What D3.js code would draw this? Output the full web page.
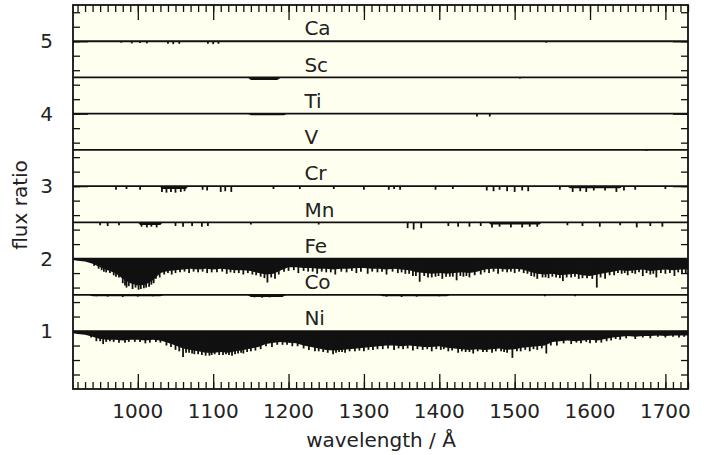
<!DOCTYPE html>
<html>
<head>
<meta charset="utf-8">
<script src="https://cdn.jsdelivr.net/npm/d3@7"></script>
<style>
  html, body { margin: 0; padding: 0; background: #ffffff; }
  svg { display: block; }
  text { font-family: "DejaVu Sans", sans-serif; fill: #222; }
</style>
</head>
<body>
<svg id="chart" width="710" height="455"></svg>
<script>
// Element names, top to bottom, and the vertical offset added to each flux ratio
const elements = ["Ca", "Sc", "Ti", "V", "Cr", "Mn", "Fe", "Co", "Ni"];
const offsets  = [4, 3.5, 3, 2.5, 2, 1.5, 1, 0.5, 0];

// Axis ticks
const wavelengthTicks = [1000, 1100, 1200, 1300, 1400, 1500, 1600, 1700];
const fluxTicks = [1, 2, 3, 4, 5];

// Absorption bands: [wavelength (Å), lower envelope of flux ratio]
const caBand = [];
const scBand = [[1146, 1.0], [1150, 0.965], [1185, 0.965], [1190, 1.0]];
const tiBand = [[1146, 1.0], [1150, 0.98], [1194, 0.98], [1198, 1.0]];
const vBand  = [];
const crBand = [[1029, 1.0], [1032, 0.96], [1064, 0.96], [1067, 1.0],
                [1570, 1.0], [1573, 0.97], [1640, 0.97], [1643, 1.0]];
const mnBand = [[1000, 1.0], [1003, 0.965], [1030, 0.965], [1033, 1.0],
                [1465, 1.0], [1468, 0.97], [1533, 0.97], [1536, 1.0]];
const feBand = [
  [914, 0.98], [920, 0.97], [930, 0.96], [940, 0.93], [950, 0.88], [960, 0.84], [970, 0.80],
  [980, 0.72], [990, 0.66], [1000, 0.63], [1010, 0.64], [1020, 0.70], [1030, 0.80],
  [1040, 0.83], [1050, 0.84], [1060, 0.85], [1070, 0.86], [1080, 0.85], [1090, 0.86],
  [1100, 0.85], [1110, 0.86], [1120, 0.85], [1130, 0.84], [1140, 0.84], [1150, 0.83],
  [1160, 0.80], [1170, 0.78], [1180, 0.79], [1190, 0.84], [1200, 0.88], [1210, 0.88],
  [1220, 0.87], [1230, 0.87], [1240, 0.86], [1250, 0.86], [1260, 0.85], [1270, 0.86],
  [1280, 0.86], [1290, 0.87], [1300, 0.87], [1310, 0.86], [1320, 0.86], [1330, 0.85],
  [1340, 0.86], [1350, 0.85], [1360, 0.84], [1370, 0.81], [1380, 0.80], [1390, 0.79],
  [1400, 0.80], [1410, 0.79], [1420, 0.80], [1430, 0.81], [1440, 0.80], [1450, 0.82],
  [1460, 0.85], [1470, 0.86], [1480, 0.86], [1490, 0.85], [1500, 0.86], [1510, 0.85],
  [1520, 0.82], [1530, 0.79], [1540, 0.78], [1550, 0.79], [1560, 0.77], [1570, 0.78],
  [1580, 0.79], [1590, 0.77], [1600, 0.76], [1610, 0.78], [1620, 0.80], [1630, 0.82],
  [1640, 0.84], [1650, 0.83], [1660, 0.84], [1670, 0.85], [1680, 0.83], [1690, 0.84],
  [1700, 0.85], [1710, 0.84], [1720, 0.85], [1730, 0.85]
];
const coBand = [[935, 1.0], [940, 0.98], [1030, 0.98], [1035, 1.0],
                [1145, 1.0], [1150, 0.97], [1192, 0.97], [1197, 1.0],
                [1320, 1.0], [1325, 0.98], [1410, 0.98], [1415, 1.0]];
const niBand = [
  [914, 0.97], [920, 0.96], [930, 0.95], [940, 0.92], [950, 0.89], [960, 0.88], [970, 0.88],
  [980, 0.87], [990, 0.88], [1000, 0.88], [1010, 0.87], [1020, 0.88], [1030, 0.87],
  [1040, 0.84], [1050, 0.80], [1060, 0.76], [1070, 0.74], [1080, 0.72], [1090, 0.70],
  [1100, 0.70], [1110, 0.71], [1120, 0.70], [1130, 0.72], [1140, 0.74], [1150, 0.76],
  [1160, 0.78], [1170, 0.82], [1180, 0.84], [1190, 0.85], [1200, 0.84], [1210, 0.83],
  [1220, 0.80], [1230, 0.78], [1240, 0.76], [1250, 0.74], [1260, 0.73], [1270, 0.74],
  [1280, 0.75], [1290, 0.76], [1300, 0.77], [1310, 0.78], [1320, 0.79], [1330, 0.80],
  [1340, 0.80], [1350, 0.79], [1360, 0.80], [1370, 0.79], [1380, 0.78], [1390, 0.78],
  [1400, 0.79], [1410, 0.77], [1420, 0.76], [1430, 0.75], [1440, 0.74], [1450, 0.75],
  [1460, 0.74], [1470, 0.75], [1480, 0.76], [1490, 0.74], [1500, 0.75], [1510, 0.77],
  [1520, 0.78], [1530, 0.79], [1540, 0.80], [1550, 0.85], [1560, 0.86], [1570, 0.87],
  [1580, 0.86], [1590, 0.87], [1600, 0.88], [1610, 0.87], [1620, 0.89], [1630, 0.91],
  [1640, 0.92], [1650, 0.93], [1660, 0.92], [1670, 0.93], [1680, 0.93], [1690, 0.94],
  [1700, 0.93], [1710, 0.94], [1720, 0.94], [1730, 0.94]
];

// Individual lines: [wavelength (Å), minimum flux ratio]
const caLines = [[978, 0.98], [992, 0.97], [1003, 0.975], [1012, 0.97], [1040, 0.965],
  [1047, 0.96], [1055, 0.965], [1093, 0.965], [1100, 0.96], [1107, 0.965], [1542, 0.98]];
const scLines = [[1507, 0.985]];
const tiLines = [[1450, 0.96], [1467, 0.96]];
const vLines  = [[1675, 0.985]];
const crLines = [[971, 0.95], [985, 0.96], [1003, 0.95], [1032, 0.92], [1038, 0.91],
  [1044, 0.92], [1050, 0.91], [1057, 0.92], [1062, 0.93], [1086, 0.95], [1092, 0.94],
  [1110, 0.92], [1116, 0.93], [1124, 0.92], [1180, 0.96], [1215, 0.96], [1260, 0.96],
  [1300, 0.95], [1333, 0.95], [1340, 0.96], [1348, 0.95], [1395, 0.95], [1418, 0.96],
  [1463, 0.94], [1472, 0.93], [1480, 0.95], [1490, 0.93], [1500, 0.92], [1510, 0.94],
  [1518, 0.93], [1560, 0.95], [1577, 0.92], [1587, 0.93], [1595, 0.92], [1605, 0.94],
  [1620, 0.94], [1635, 0.92], [1645, 0.94], [1660, 0.95], [1700, 0.96]];
const mnLines = [[950, 0.96], [960, 0.95], [975, 0.96], [1005, 0.94], [1012, 0.93],
  [1018, 0.94], [1025, 0.93], [1050, 0.95], [1060, 0.94], [1072, 0.95], [1085, 0.94],
  [1093, 0.95], [1150, 0.97], [1240, 0.97], [1358, 0.92], [1366, 0.90], [1376, 0.92],
  [1412, 0.95], [1425, 0.94], [1440, 0.94], [1455, 0.95], [1470, 0.93], [1480, 0.94],
  [1495, 0.93], [1510, 0.93], [1520, 0.94], [1530, 0.94], [1570, 0.96], [1590, 0.95],
  [1613, 0.94], [1640, 0.96], [1662, 0.93], [1680, 0.95], [1696, 0.94]];
const feLines = [[942, 0.90], [948, 0.86], [952, 0.84], [955, 0.82], [958, 0.81], [963, 0.80],
  [968, 0.77], [971, 0.75], [975, 0.74], [980, 0.66], [983, 0.63], [985, 0.60], [988, 0.62],
  [993, 0.58], [997, 0.60], [1001, 0.57], [1004, 0.58], [1008, 0.59], [1011, 0.60],
  [1015, 0.61], [1018, 0.64], [1021, 0.66], [1024, 0.72], [1029, 0.74], [1035, 0.78],
  [1040, 0.80], [1045, 0.78], [1050, 0.80], [1056, 0.81], [1062, 0.82], [1068, 0.80],
  [1074, 0.82], [1080, 0.81], [1086, 0.82], [1092, 0.80], [1098, 0.81], [1105, 0.81],
  [1112, 0.82], [1118, 0.79], [1123, 0.81], [1128, 0.80], [1134, 0.80], [1140, 0.78],
  [1146, 0.80], [1152, 0.78], [1157, 0.77], [1163, 0.75], [1168, 0.73], [1172, 0.67],
  [1177, 0.74], [1182, 0.72], [1187, 0.78], [1194, 0.82], [1200, 0.83], [1207, 0.84],
  [1213, 0.80], [1220, 0.83], [1226, 0.82], [1232, 0.82], [1238, 0.79], [1244, 0.82],
  [1250, 0.81], [1256, 0.81], [1262, 0.78], [1270, 0.82], [1277, 0.81], [1284, 0.83],
  [1290, 0.80], [1296, 0.82], [1305, 0.79], [1311, 0.82], [1318, 0.81], [1324, 0.82],
  [1330, 0.78], [1338, 0.82], [1345, 0.80], [1350, 0.81], [1355, 0.79], [1360, 0.79],
  [1365, 0.76], [1369, 0.76], [1374, 0.68], [1380, 0.76], [1385, 0.74], [1390, 0.74],
  [1395, 0.75], [1399, 0.76], [1404, 0.72], [1409, 0.75], [1414, 0.75], [1418, 0.75],
  [1423, 0.70], [1428, 0.76], [1432, 0.75], [1436, 0.76], [1440, 0.74], [1447, 0.77],
  [1455, 0.78], [1460, 0.81], [1466, 0.80], [1472, 0.82], [1478, 0.79], [1484, 0.82],
  [1490, 0.81], [1495, 0.82], [1500, 0.80], [1506, 0.82], [1512, 0.80], [1517, 0.79],
  [1522, 0.76], [1526, 0.75], [1530, 0.72], [1537, 0.74], [1541, 0.74], [1545, 0.73],
  [1550, 0.75], [1555, 0.74], [1560, 0.73], [1564, 0.69], [1569, 0.74], [1575, 0.74],
  [1580, 0.75], [1585, 0.72], [1590, 0.73], [1596, 0.73], [1603, 0.72], [1609, 0.60],
  [1614, 0.74], [1620, 0.72], [1626, 0.77], [1632, 0.77], [1637, 0.80], [1642, 0.79],
  [1646, 0.80], [1650, 0.77], [1656, 0.80], [1660, 0.79], [1665, 0.81], [1670, 0.76],
  [1675, 0.80], [1680, 0.78], [1684, 0.79], [1688, 0.74], [1694, 0.80], [1700, 0.79],
  [1706, 0.80], [1712, 0.76], [1717, 0.81], [1722, 0.79], [1727, 0.80]];
const coLines = [[945, 0.98], [960, 0.975], [980, 0.97], [1000, 0.975], [1020, 0.98],
  [1155, 0.965], [1165, 0.96], [1175, 0.965], [1185, 0.97], [1330, 0.975], [1350, 0.97],
  [1370, 0.975], [1400, 0.98], [1540, 0.98], [1580, 0.98]];
const niLines = [[938, 0.91], [945, 0.86], [950, 0.86], [954, 0.82], [958, 0.85],
  [963, 0.86], [968, 0.85], [975, 0.84], [983, 0.84], [988, 0.85], [996, 0.85],
  [1003, 0.85], [1010, 0.83], [1016, 0.84], [1024, 0.85], [1030, 0.84], [1038, 0.80],
  [1044, 0.78], [1050, 0.74], [1055, 0.72], [1060, 0.64], [1064, 0.70], [1068, 0.70],
  [1072, 0.69], [1075, 0.68], [1080, 0.68], [1085, 0.67], [1090, 0.66], [1095, 0.66],
  [1098, 0.67], [1102, 0.68], [1108, 0.67], [1113, 0.67], [1117, 0.68], [1121, 0.67],
  [1125, 0.66], [1129, 0.68], [1133, 0.69], [1137, 0.70], [1140, 0.69], [1145, 0.71],
  [1150, 0.72], [1156, 0.73], [1163, 0.75], [1170, 0.79], [1178, 0.78], [1185, 0.81],
  [1192, 0.81], [1198, 0.81], [1205, 0.79], [1212, 0.79], [1220, 0.76], [1227, 0.74],
  [1235, 0.72], [1240, 0.72], [1246, 0.71], [1252, 0.70], [1259, 0.68], [1263, 0.70],
  [1267, 0.71], [1271, 0.71], [1275, 0.70], [1281, 0.72], [1288, 0.72], [1294, 0.73],
  [1300, 0.72], [1306, 0.74], [1312, 0.74], [1318, 0.75], [1325, 0.75], [1332, 0.76],
  [1340, 0.74], [1346, 0.76], [1352, 0.75], [1358, 0.76], [1365, 0.73], [1371, 0.75],
  [1378, 0.74], [1384, 0.75], [1390, 0.72], [1396, 0.75], [1402, 0.74], [1406, 0.75],
  [1412, 0.72], [1417, 0.73], [1425, 0.70], [1430, 0.72], [1435, 0.71], [1440, 0.71],
  [1445, 0.69], [1451, 0.72], [1458, 0.71], [1463, 0.71], [1470, 0.70], [1475, 0.72],
  [1482, 0.72], [1486, 0.71], [1490, 0.70], [1497, 0.63], [1503, 0.72], [1508, 0.72],
  [1514, 0.74], [1520, 0.72], [1525, 0.75], [1530, 0.74], [1536, 0.76], [1542, 0.69],
  [1548, 0.80], [1556, 0.80], [1565, 0.83], [1575, 0.82], [1582, 0.84], [1588, 0.83],
  [1595, 0.85], [1600, 0.83], [1608, 0.84], [1615, 0.84], [1622, 0.86], [1628, 0.87],
  [1634, 0.89], [1640, 0.88], [1648, 0.90], [1660, 0.89], [1670, 0.91], [1680, 0.90],
  [1690, 0.92], [1700, 0.91], [1710, 0.92], [1718, 0.91], [1725, 0.92]];

const bands = [caBand, scBand, tiBand, vBand, crBand, mnBand, feBand, coBand, niBand];
const lines = [caLines, scLines, tiLines, vLines, crLines, mnLines, feLines, coLines, niLines];

// Layout
const svg = d3.select("#chart");
const plot = { left: 73, right: 688, top: 5, bottom: 389 };

const x = d3.scaleLinear().domain([914, 1730]).range([plot.left, plot.right]);
const y = d3.scaleLinear().domain([0.2, 5.5]).range([plot.bottom, plot.top]);

// Plot background
svg.append("rect")
  .attr("x", plot.left).attr("y", plot.top)
  .attr("width", plot.right - plot.left).attr("height", plot.bottom - plot.top)
  .attr("fill", "#fffff0");

svg.append("clipPath").attr("id", "plot-clip")
  .append("rect")
  .attr("x", plot.left).attr("y", plot.top)
  .attr("width", plot.right - plot.left).attr("height", plot.bottom - plot.top);

const data = svg.append("g").attr("clip-path", "url(#plot-clip)");
const ink = "#111";

elements.forEach((name, i) => {
  const off = offsets[i];
  const g = data.append("g").attr("class", "spectrum-" + name);

  // Unresolved line blanketing as a filled band below the continuum
  if (bands[i].length) {
    const area = d3.area()
      .x(d => x(d[0]))
      .y0(y(1 + off))
      .y1(d => y(d[1] + off));
    g.append("path").datum(bands[i])
      .attr("d", area)
      .attr("fill", ink);
  }

  // Individual absorption lines
  g.selectAll("line.abs").data(lines[i]).join("line")
    .attr("class", "abs")
    .attr("x1", d => x(d[0])).attr("x2", d => x(d[0]))
    .attr("y1", y(1 + off)).attr("y2", d => y(d[1] + off))
    .attr("stroke", ink).attr("stroke-width", 1.8);

  // Continuum
  g.append("line")
    .attr("x1", x(x.domain()[0])).attr("x2", x(x.domain()[1]))
    .attr("y1", y(1 + off)).attr("y2", y(1 + off))
    .attr("stroke", ink).attr("stroke-width", 1.8);

  // Element label
  svg.append("text")
    .attr("x", x(1221))
    .attr("y", y(1 + off + 0.08))
    .attr("font-size", 20)
    .text(name);
});

// Axes with inward ticks on all four sides
const xMinor = d3.range(920, 1731, 10);
const yMinor = d3.range(0.4, 5.41, 0.2);

function tickAxis(axisGen, transform, ticks, size) {
  svg.append("g")
    .attr("transform", transform)
    .call(axisGen.tickValues(ticks).tickSize(size).tickFormat(""))
    .call(g => g.select(".domain").remove())
    .call(g => g.selectAll("line").attr("stroke", ink).attr("stroke-width", 1.3));
}

tickAxis(d3.axisTop(x), `translate(0,${plot.bottom})`, xMinor, 7);
tickAxis(d3.axisTop(x), `translate(0,${plot.bottom})`, wavelengthTicks, 15);
tickAxis(d3.axisBottom(x), `translate(0,${plot.top})`, xMinor, 7);
tickAxis(d3.axisBottom(x), `translate(0,${plot.top})`, wavelengthTicks, 15);
tickAxis(d3.axisRight(y), `translate(${plot.left},0)`, yMinor, 7);
tickAxis(d3.axisRight(y), `translate(${plot.left},0)`, fluxTicks, 15);
tickAxis(d3.axisLeft(y), `translate(${plot.right},0)`, yMinor, 7);
tickAxis(d3.axisLeft(y), `translate(${plot.right},0)`, fluxTicks, 15);

// Frame
svg.append("rect")
  .attr("x", plot.left).attr("y", plot.top)
  .attr("width", plot.right - plot.left).attr("height", plot.bottom - plot.top)
  .attr("fill", "none").attr("stroke", ink).attr("stroke-width", 1.8);

// Tick labels
svg.append("g").selectAll("text").data(wavelengthTicks).join("text")
  .attr("x", d => x(d)).attr("y", 418)
  .attr("text-anchor", "middle").attr("font-size", 20)
  .text(d => d);

svg.append("g").selectAll("text").data(fluxTicks).join("text")
  .attr("x", 53).attr("y", d => y(d)).attr("dy", "0.36em")
  .attr("text-anchor", "end").attr("font-size", 20)
  .text(d => d);

// Axis titles
svg.append("text")
  .attr("x", 381).attr("y", 447)
  .attr("text-anchor", "middle").attr("font-size", 20)
  .text("wavelength / Å");

svg.append("text")
  .attr("transform", "translate(27,205) rotate(-90)")
  .attr("text-anchor", "middle").attr("font-size", 20)
  .text("flux ratio");
</script>
</body>
</html>
